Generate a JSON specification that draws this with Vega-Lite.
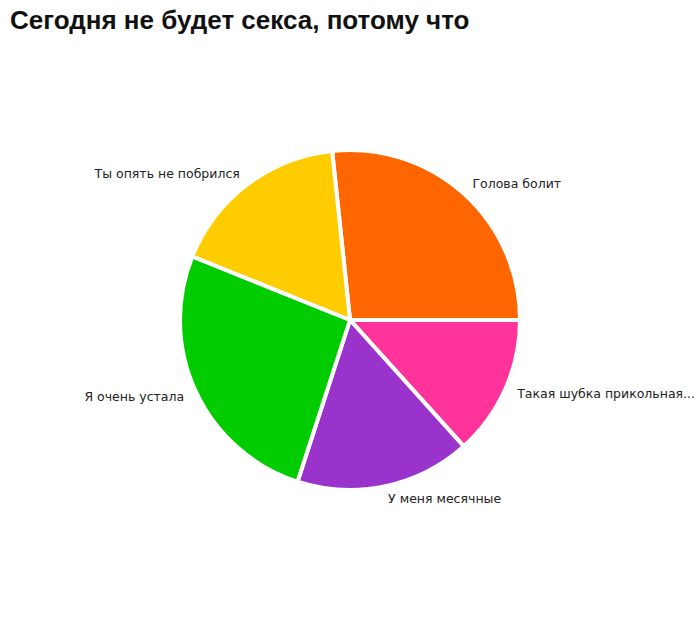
{
  "$schema": "https://vega.github.io/schema/vega-lite/v6.json",
  "width": 700,
  "height": 560,
  "autosize": "none",
  "padding": {"top": 40, "left": 0, "right": 0, "bottom": 0},
  "background": "white",
  "title": {
    "text": "Сегодня не будет секса, потому что",
    "anchor": "start",
    "frame": "group",
    "dx": 10,
    "offset": 6,
    "font": "Liberation Sans",
    "fontSize": 26,
    "fontWeight": "bold",
    "color": "#111111"
  },
  "data": {
    "values": [
      {"reason": "Голова болит", "share": 96, "order": 1, "side": "right"},
      {"reason": "Такая шубка прикольная...", "share": 48, "order": 2, "side": "right"},
      {"reason": "У меня месячные", "share": 60, "order": 3, "side": "right"},
      {"reason": "Я очень устала", "share": 94, "order": 4, "side": "left"},
      {"reason": "Ты опять не побрился", "share": 62, "order": 5, "side": "left"}
    ]
  },
  "encoding": {
    "theta": {
      "field": "share",
      "type": "quantitative",
      "stack": true,
      "scale": {"range": [-0.105, 6.178]}
    },
    "order": {"field": "order", "type": "quantitative"}
  },
  "layer": [
    {
      "mark": {"type": "arc", "radius": 170, "stroke": "white", "strokeWidth": 4},
      "encoding": {
        "color": {
          "field": "reason",
          "type": "nominal",
          "legend": null,
          "scale": {
            "domain": ["Голова болит", "Такая шубка прикольная...", "У меня месячные", "Я очень устала", "Ты опять не побрился"],
            "range": ["#FF6600", "#FF3399", "#9933CC", "#00CC00", "#FFCC00"]
          }
        }
      }
    },
    {
      "mark": {
        "type": "text",
        "radius": 183,
        "align": {"expr": "datum.side == 'right' ? 'left' : 'right'"},
        "baseline": "middle",
        "font": "DejaVu Sans",
        "fontSize": 12.5,
        "color": "#222222"
      },
      "encoding": {"text": {"field": "reason"}}
    }
  ]
}
